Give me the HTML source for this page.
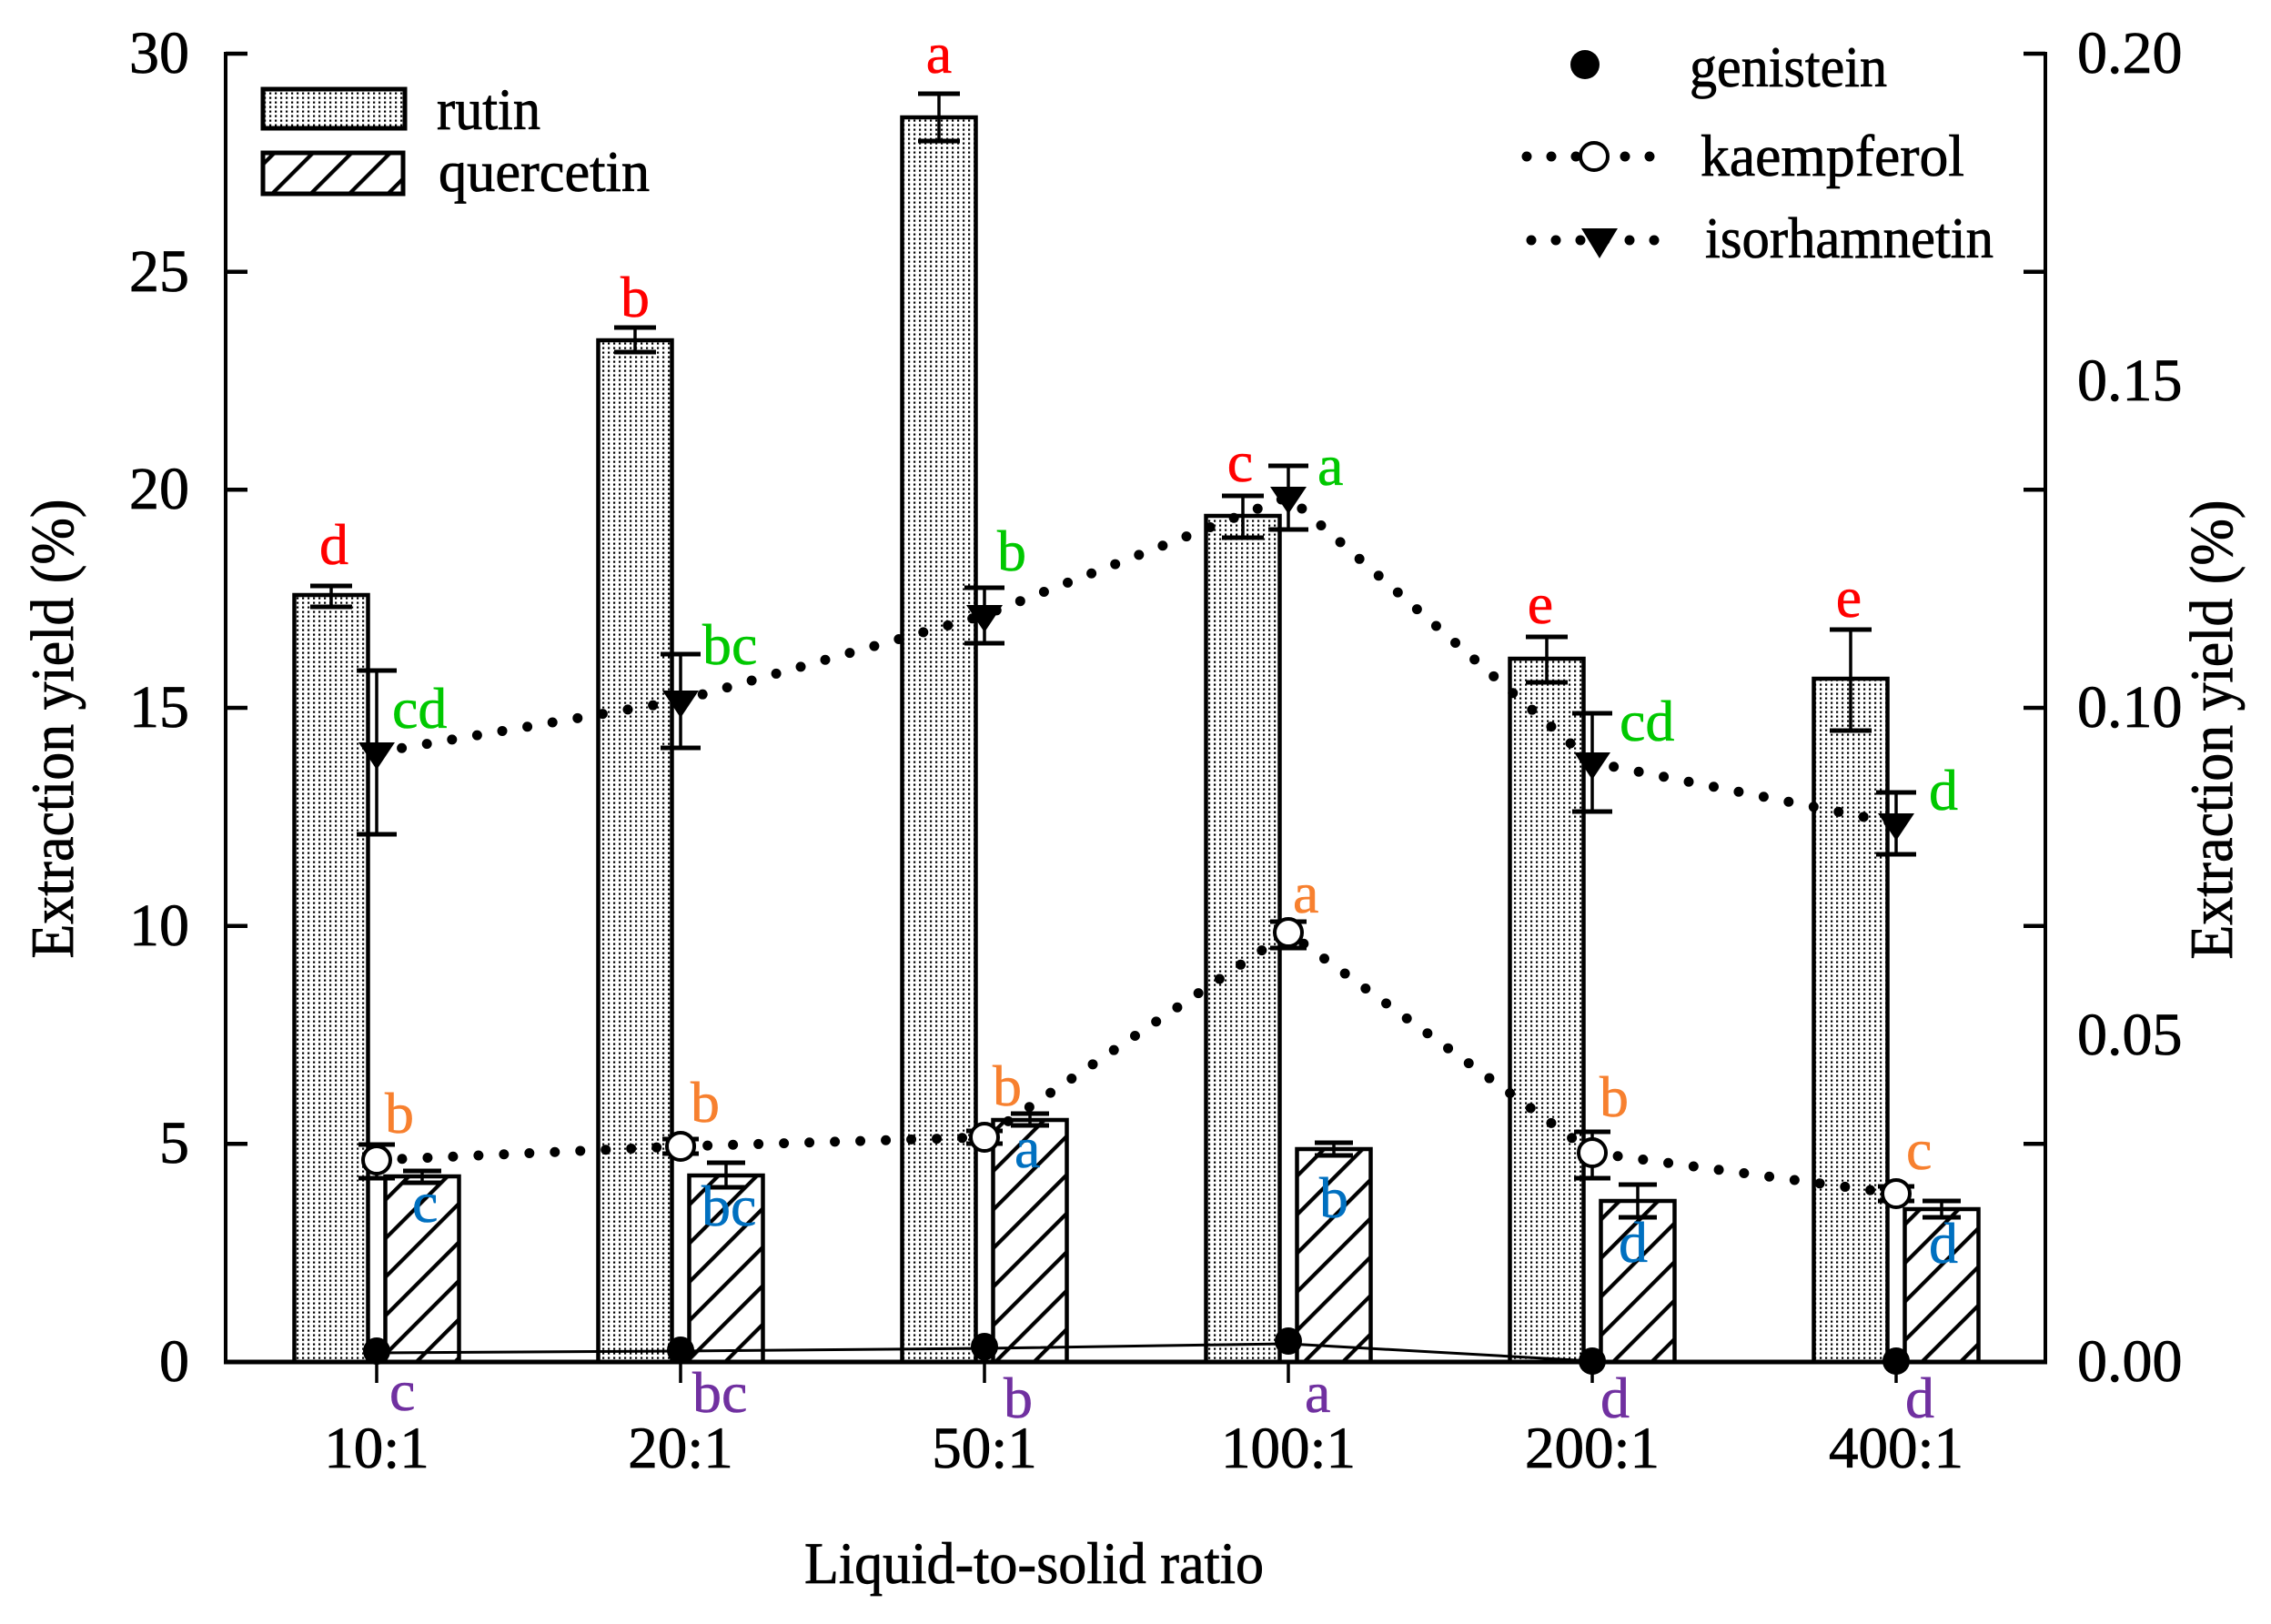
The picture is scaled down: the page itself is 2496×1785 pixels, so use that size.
<!DOCTYPE html>
<html><head><meta charset="utf-8"><style>
html,body{margin:0;padding:0;background:#fff;}
svg{display:block;}
text{font-family:"Liberation Serif","Times New Roman",serif;}
</style></head><body>
<svg xmlns="http://www.w3.org/2000/svg" width="2496" height="1785" viewBox="0 0 2496 1785">
<defs>
<pattern id="dots" width="6" height="5" patternUnits="userSpaceOnUse"><rect width="6" height="5" fill="#fff"/><rect x="2" y="1.5" width="2.2" height="2.2" fill="#000"/></pattern>
<pattern id="hatch" width="30" height="30" patternUnits="userSpaceOnUse" patternTransform="rotate(45)"><rect width="30" height="30" fill="#fff"/><rect x="0" y="0" width="4.2" height="30" fill="#000"/></pattern>
</defs>
<rect width="2496" height="1785" fill="#fff"/>

<!-- rutin bars -->
<g fill="url(#dots)" stroke="#000" stroke-width="4.5">
<rect x="323.5" y="654" width="81" height="843"/>
<rect x="657.5" y="374" width="81" height="1123"/>
<rect x="991.5" y="129" width="81" height="1368"/>
<rect x="1325.5" y="567" width="81" height="930"/>
<rect x="1659.5" y="724" width="81" height="773"/>
<rect x="1993.5" y="746" width="81" height="751"/>
</g>
<!-- quercetin bars -->
<g fill="url(#hatch)" stroke="#000" stroke-width="4.5">
<rect x="423.5" y="1293" width="81" height="204"/>
<rect x="757.5" y="1292" width="81" height="205"/>
<rect x="1091.5" y="1231" width="81" height="266"/>
<rect x="1425.5" y="1263" width="81" height="234"/>
<rect x="1759.5" y="1320" width="81" height="177"/>
<rect x="2093.5" y="1329" width="81" height="168"/>
</g>

<!-- bar error bars -->
<g stroke="#000" fill="none">
<path stroke-width="3.5" d="M364 644V667M698 360V387M1032 103V155M1366 545V591M1700 700V750M2034 692V803"/>
<path stroke-width="5" d="M341 644H387M341 667H387M675 360H721M675 387H721M1009 103H1055M1009 155H1055M1343 545H1389M1343 591H1389M1677 700H1723M1677 750H1723M2011 692H2057M2011 803H2057"/>
<path stroke-width="3.5" d="M464 1287V1300M798 1278V1305M1132 1224V1237M1466 1256V1270M1800 1302V1338M2134 1320V1338"/>
<path stroke-width="5" d="M443 1287H485M443 1300H485M777 1278H819M777 1305H819M1111 1224H1153M1111 1237H1153M1445 1256H1487M1445 1270H1487M1779 1302H1821M1779 1338H1821M2113 1320H2155M2113 1338H2155"/>
</g>

<!-- genistein line -->
<polyline points="414,1487 748,1485 1082,1482 1416,1477 1750,1496 2084,1496" fill="none" stroke="#000" stroke-width="3"/>

<!-- dotted lines -->
<polyline points="414,827 748,770 1082,676 1416,546 1750,838 2084,905" fill="none" stroke="#000" stroke-width="11" stroke-linecap="round" stroke-dasharray="0 28"/>
<polyline points="414,1275 748,1260 1082,1250 1416,1025 1750,1267 2084,1312" fill="none" stroke="#000" stroke-width="11" stroke-linecap="round" stroke-dasharray="0 28"/>

<!-- isorhamnetin / kaempferol error bars -->
<g stroke="#000" fill="none">
<path stroke-width="3.5" d="M414 737V917M748 719V822M1082 646V707M1416 512V582M1750 784V892M2084 871V939"/>
<path stroke-width="5" d="M392 737H436M392 917H436M726 719H770M726 822H770M1060 646H1104M1060 707H1104M1394 512H1438M1394 582H1438M1728 784H1772M1728 892H1772M2062 871H2106M2062 939H2106"/>
<path stroke-width="3.5" d="M414 1258V1295M748 1252V1268M1082 1243V1257M1416 1013V1042M1750 1244V1295M2084 1304V1320"/>
<path stroke-width="5" d="M394 1258H434M394 1295H434M728 1252H768M728 1268H768M1062 1243H1102M1062 1257H1102M1396 1013H1436M1396 1042H1436M1730 1244H1770M1730 1295H1770M2064 1304H2104M2064 1320H2104"/>
</g>

<!-- markers -->
<g fill="#000">
<path d="M394 816H434L414 846Z"/>
<path d="M728 759H768L748 789Z"/>
<path d="M1062 665H1102L1082 695Z"/>
<path d="M1396 535H1436L1416 565Z"/>
<path d="M1730 827H1770L1750 857Z"/>
<path d="M2064 894H2104L2084 924Z"/>
</g>
<g fill="#fff" stroke="#000" stroke-width="4">
<circle cx="414" cy="1275" r="15"/>
<circle cx="748" cy="1260" r="15"/>
<circle cx="1082" cy="1250" r="15"/>
<circle cx="1416" cy="1025" r="15"/>
<circle cx="1750" cy="1267" r="15"/>
<circle cx="2084" cy="1312" r="15"/>
</g>
<g fill="#000">
<circle cx="414" cy="1485" r="15"/>
<circle cx="748" cy="1484" r="15"/>
<circle cx="1082" cy="1480" r="15"/>
<circle cx="1416" cy="1474" r="15"/>
<circle cx="1750" cy="1496" r="15"/>
<circle cx="2084" cy="1496" r="15"/>
</g>

<!-- axes -->
<g stroke="#000" fill="none">
<path stroke-width="4" d="M248 57V1497M2248 57V1497"/>
<path stroke-width="5" d="M246 1497H2250"/>
<path stroke-width="4.5" d="M248 59H272M248 298.7H272M248 538.3H272M248 778H272M248 1017.7H272M248 1257.3H272M2224 59H2248M2224 298.7H2248M2224 538.3H2248M2224 778H2248M2224 1017.7H2248M2224 1257.3H2248"/>
<path stroke-width="3.5" d="M414 1497V1520M748 1497V1520M1082 1497V1520M1416 1497V1520M1750 1497V1520M2084 1497V1520"/>
</g>

<g stroke="#000" stroke-width="0.8">
<!-- tick labels -->
<g font-size="66" fill="#000" text-anchor="end">
<text x="208" y="80">30</text>
<text x="208" y="320">25</text>
<text x="208" y="559">20</text>
<text x="208" y="799">15</text>
<text x="208" y="1039">10</text>
<text x="208" y="1278">5</text>
<text x="208" y="1518">0</text>
</g>
<g font-size="66" fill="#000">
<text x="2283" y="80">0.20</text>
<text x="2283" y="440">0.15</text>
<text x="2283" y="799">0.10</text>
<text x="2283" y="1159">0.05</text>
<text x="2283" y="1518">0.00</text>
</g>
<g font-size="65" fill="#000" text-anchor="middle">
<text x="414" y="1613">10:1</text>
<text x="748" y="1613">20:1</text>
<text x="1082" y="1613">50:1</text>
<text x="1416" y="1613">100:1</text>
<text x="1750" y="1613">200:1</text>
<text x="2084" y="1613">400:1</text>
</g>

<!-- axis titles -->
<text x="884" y="1740" font-size="65" textLength="505" lengthAdjust="spacingAndGlyphs">Liquid-to-solid ratio</text>
<text transform="translate(80,801) rotate(-90)" text-anchor="middle" font-size="67" textLength="505" lengthAdjust="spacingAndGlyphs">Extraction yield (%)</text>
<text transform="translate(2453,802) rotate(-90)" text-anchor="middle" font-size="67" textLength="505" lengthAdjust="spacingAndGlyphs">Extraction yield (%)</text>

<!-- left legend text -->
<text x="480" y="142" font-size="65" textLength="114" lengthAdjust="spacingAndGlyphs">rutin</text>
<text x="482" y="210" font-size="64" textLength="232" lengthAdjust="spacingAndGlyphs">quercetin</text>
<!-- right legend text -->
<text x="1857" y="95" font-size="64" textLength="217" lengthAdjust="spacingAndGlyphs">genistein</text>
<text x="1869" y="193" font-size="65" textLength="290" lengthAdjust="spacingAndGlyphs">kaempferol</text>
<text x="1874" y="283" font-size="64" textLength="317" lengthAdjust="spacingAndGlyphs">isorhamnetin</text>
</g>

<!-- significance letters -->
<g font-size="64" fill="#FF0000" stroke="#FF0000" stroke-width="0.6" text-anchor="middle">
<text x="367" y="620">d</text>
<text x="698" y="348">b</text>
<text x="1032" y="80">a</text>
<text x="1363" y="529">c</text>
<text x="1693" y="685">e</text>
<text x="2032" y="678">e</text>
</g>
<g font-size="64" fill="#00C800" stroke="#00C800" stroke-width="0.6">
<text x="431" y="800">cd</text>
<text x="772" y="730">bc</text>
<text x="1096" y="627">b</text>
<text x="1448" y="533">a</text>
<text x="1780" y="814">cd</text>
<text x="2120" y="890">d</text>
</g>
<g font-size="64" fill="#F7802F" stroke="#F7802F" stroke-width="0.6">
<text x="423" y="1245">b</text>
<text x="759" y="1233">b</text>
<text x="1091" y="1215">b</text>
<text x="1421" y="1003">a</text>
<text x="1758" y="1227">b</text>
<text x="2095" y="1285">c</text>
</g>
<g font-size="64" fill="#0070C0" stroke="#0070C0" stroke-width="0.6">
<text x="453" y="1343">c</text>
<text x="771" y="1347">bc</text>
<text x="1115" y="1283">a</text>
<text x="1450" y="1338">b</text>
<text x="1779" y="1387">d</text>
<text x="2120" y="1388">d</text>
</g>
<g font-size="64" fill="#7030A0" stroke="#7030A0" stroke-width="0.6">
<text x="428" y="1550">c</text>
<text x="761" y="1552">bc</text>
<text x="1103" y="1558">b</text>
<text x="1434" y="1552">a</text>
<text x="1759" y="1558">d</text>
<text x="2094" y="1558">d</text>
</g>

<!-- left legend boxes -->
<rect x="289" y="98" width="156" height="43" fill="url(#dots)" stroke="#000" stroke-width="5"/>
<rect x="289" y="168" width="154" height="45" fill="url(#hatch)" stroke="#000" stroke-width="5"/>

<!-- right legend markers -->
<circle cx="1742" cy="71" r="16" fill="#000"/>
<line x1="1678" y1="172" x2="1818" y2="172" stroke="#000" stroke-width="11" stroke-linecap="round" stroke-dasharray="0 27"/>
<circle cx="1752" cy="172" r="15" fill="#fff" stroke="#000" stroke-width="4"/>
<line x1="1683" y1="264" x2="1820" y2="264" stroke="#000" stroke-width="11" stroke-linecap="round" stroke-dasharray="0 27"/>
<path d="M1738 251H1778L1758 284Z" fill="#000"/>
</svg>
</body></html>
